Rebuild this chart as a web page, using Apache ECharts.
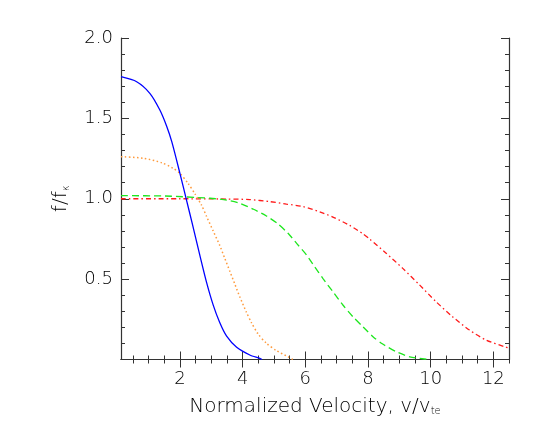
<!DOCTYPE html>
<html>
<head>
<meta charset="utf-8">
<script src="https://cdn.jsdelivr.net/npm/echarts@6/dist/echarts.min.js"></script>
<style>
  html, body { margin: 0; padding: 0; background: #fff; }
  #chart { width: 545px; height: 436px; }
</style>
</head>
<body>
<div id="chart"></div>
<script>
// curves: [v/vte, f/fk]
const blueData = [
  [0.12, 1.759], [0.62, 1.728], [1.04, 1.656], [1.36, 1.552], [1.58, 1.45],
  [1.74, 1.355], [2.0, 1.158], [2.21, 0.992], [2.4, 0.84], [2.64, 0.645],
  [2.85, 0.48], [3.06, 0.34], [3.27, 0.23], [3.49, 0.145], [3.81, 0.076],
  [4.23, 0.028], [4.55, 0.007], [4.62, 0.0]
];
const orangeData = [
  [0.12, 1.262], [0.83, 1.252], [1.42, 1.224], [1.79, 1.189], [2.0, 1.158],
  [2.26, 1.096], [2.48, 1.03], [2.69, 0.96], [2.85, 0.89], [3.06, 0.8],
  [3.27, 0.71], [3.43, 0.63], [3.59, 0.55], [3.75, 0.47], [3.91, 0.39],
  [4.12, 0.295], [4.28, 0.23], [4.49, 0.16], [4.76, 0.101], [5.08, 0.055],
  [5.45, 0.017], [5.6, 0.0]
];
const greenData = [
  [0.12, 1.019], [1.52, 1.017], [2.96, 1.003], [3.49, 0.992], [3.91, 0.972],
  [4.33, 0.936], [4.76, 0.893], [5.13, 0.843], [5.45, 0.785], [5.77, 0.712],
  [6.04, 0.65], [6.3, 0.577], [6.56, 0.505], [6.88, 0.422], [7.2, 0.339],
  [7.52, 0.266], [7.84, 0.204], [8.16, 0.142], [8.47, 0.096], [8.9, 0.049],
  [9.33, 0.017], [9.8, 0.003], [10.0, 0.0]
];
const redData = [
  [0.12, 1.0], [2.0, 1.0], [3.5, 0.998], [4.23, 0.995], [4.87, 0.982],
  [5.4, 0.967], [5.93, 0.951], [6.46, 0.919], [6.88, 0.886], [7.41, 0.835],
  [7.84, 0.782], [8.05, 0.75], [8.58, 0.661], [9.11, 0.567], [9.64, 0.465],
  [10.17, 0.36], [10.7, 0.266], [11.24, 0.183], [11.77, 0.121], [12.35, 0.08],
  [12.5, 0.072]
];

const xMajor = [2, 4, 6, 8, 10, 12];
const xMinor = [0.5, 1, 1.5, 2.5, 3, 3.5, 4.5, 5, 5.5, 6.5, 7, 7.5, 8.5, 9, 9.5, 10.5, 11, 11.5, 12.5];
const yMajor = [0.5, 1.0, 1.5, 2.0];
const yMinor = [0.1, 0.2, 0.3, 0.4, 0.6, 0.7, 0.8, 0.9, 1.1, 1.2, 1.3, 1.4, 1.6, 1.7, 1.8, 1.9];

const ink = '#333';
const txt = '#000';
const font = 'DejaVu Sans';
const X_MIN = 0.12, X_MAX = 12.5;
const box = { left: 121, top: 38, width: 388, height: 321.5 };

function axis(kind, grid, pos, ticks, len, main) {
  const labelled = main && (pos === 'bottom' || pos === 'left');
  return {
    type: 'value', gridIndex: grid, position: pos,
    min: kind === 'x' ? X_MIN : 0, max: kind === 'x' ? X_MAX : 2,
    axisLine: { show: main, lineStyle: { color: ink, width: 1.2 } },
    axisTick: { show: true, inside: true, length: len, customValues: ticks, lineStyle: { color: ink, width: 1 } },
    axisLabel: labelled ? {
      show: true, customValues: kind === 'x' ? xMajor : yMajor,
      margin: kind === 'x' ? 11 : 8, color: txt, fontFamily: font, fontSize: 18, fontWeight: 200,
      formatter: kind === 'x' ? (v => String(v)) : (v => v.toFixed(1))
    } : { show: false },
    splitLine: { show: false }
  };
}

const nameRich = {
  n: { fontSize: 20, fontFamily: font, fontWeight: 200, color: txt },
  sub: { fontSize: 10, fontFamily: font, fontWeight: 200, color: txt, verticalAlign: 'bottom', padding: [8, 0, 0, 0] }
};

// grid 0: main frame, major ticks; grid 1: same box, minor ticks only
const xAxes = [
  axis('x', 0, 'bottom', xMajor, 8, true), axis('x', 0, 'top', xMajor, 8, true),
  axis('x', 1, 'bottom', xMinor, 4, false), axis('x', 1, 'top', xMinor, 4, false)
];
const yAxes = [
  axis('y', 0, 'left', yMajor, 8, true), axis('y', 0, 'right', yMajor, 8, true),
  axis('y', 1, 'left', yMinor, 4, false), axis('y', 1, 'right', yMinor, 4, false)
];
Object.assign(xAxes[0], {
  name: '{n|Normalized Velocity, v/v}{sub|te}', nameLocation: 'middle', nameGap: 37,
  nameTextStyle: { rich: nameRich }
});
Object.assign(yAxes[0], {
  name: '{n|f/f}{sub|κ}', nameLocation: 'middle', nameRotate: 90, nameGap: 50,
  nameTextStyle: { rich: nameRich }
});

function line(data, color, type, width) {
  return {
    type: 'line', data: data, smooth: 0.25, showSymbol: false, silent: true,
    xAxisIndex: 0, yAxisIndex: 0, clip: true,
    lineStyle: { color: color, width: width, type: type }
  };
}

const chart = echarts.init(document.getElementById('chart'));
chart.setOption({
  animation: false,
  backgroundColor: '#fff',
  grid: [Object.assign({}, box), Object.assign({}, box)],
  xAxis: xAxes,
  yAxis: yAxes,
  series: [
    line(redData, '#ff1a1a', [5, 3, 1.5, 3], 1.3),
    line(greenData, '#1ee61e', [7, 4], 1.3),
    line(orangeData, '#ff9a3c', [1.5, 2.5], 1.5),
    line(blueData, '#0000ff', 'solid', 1.3)
  ]
});
</script>
</body>
</html>
